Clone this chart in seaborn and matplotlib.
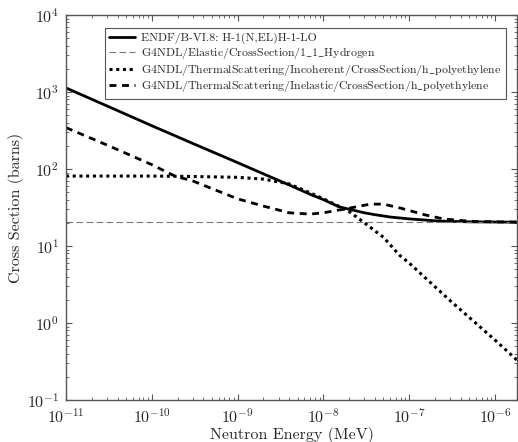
import matplotlib
matplotlib.use("Agg")
import matplotlib.pyplot as plt
import seaborn as sns
import pandas as pd

# Energie (MeV) e sezioni d'urto (barns)
energia_endf = [1e-11, 3e-11, 1e-10, 3e-10, 1e-9, 1.8e-9, 4e-9, 7e-9, 1e-8, 1.5e-8,
                2e-8, 3e-8, 4e-8, 6e-8, 1e-7, 2.2e-7, 5e-7, 1e-6, 1.8e-6]
sigma_endf = [1130, 660, 365, 215, 121, 91, 62, 47, 40, 32.5,
              30, 27, 25.5, 23.8, 22.5, 21.1, 20.6, 20.5, 20.4]

energia_elastic = [1e-11, 1e-9, 1e-7, 1.8e-6]
sigma_elastic = [20.4, 20.4, 20.4, 20.4]

energia_incoh = [1e-11, 1e-10, 3e-10, 1e-9, 2e-9, 4e-9, 7e-9, 1e-8, 1.5e-8, 2e-8,
                 3e-8, 5e-8, 7.7e-8, 1e-7, 3e-7, 1e-6, 1.8e-6]
sigma_incoh = [81, 81, 80, 78, 74, 64, 49, 41, 33, 28,
               20, 13, 7.6, 6.0, 1.95, 0.6, 0.33]

energia_inel = [1e-11, 3e-11, 1e-10, 1.85e-10, 3e-10, 1e-9, 2e-9, 4e-9, 7e-9, 1e-8,
                2e-8, 3.5e-8, 5e-8, 8e-8, 1.5e-7, 2.5e-7, 5e-7, 1e-6, 1.8e-6]
sigma_inel = [345, 205, 114, 81, 70, 41, 33, 27, 26, 27,
              31, 35, 35, 31, 25.5, 22.5, 21, 20.6, 20.5]

# tacche degli assi
xtacche = [1e-11, 1e-10, 1e-9, 1e-8, 1e-7, 1e-6]
xetichette = ["$10^{-11}$", "$10^{-10}$", "$10^{-9}$", "$10^{-8}$", "$10^{-7}$", "$10^{-6}$"]
ytacche = [1e-1, 1e0, 1e1, 1e2, 1e3, 1e4]
yetichette = ["$10^{-1}$", "$10^{0}$", "$10^{1}$", "$10^{2}$", "$10^{3}$", "$10^{4}$"]

# il carattere cmr10 non ha il trattino basso: lo si prende da mathtext
etichette = [
    "ENDF/B-VI.8: H-1(N,EL)H-1-LO",
    r"G4NDL/Elastic/CrossSection/1$\_$1$\_$Hydrogen",
    r"G4NDL/ThermalScattering/Incoherent/CrossSection/h$\_$polyethylene",
    r"G4NDL/ThermalScattering/Inelastic/CrossSection/h$\_$polyethylene",
]

sns.set_style("ticks")
plt.rcParams['font.family'] = ['cmr10', 'DejaVu Serif']
plt.rcParams['mathtext.fontset'] = 'cm'
plt.rcParams['axes.unicode_minus'] = True

fig = plt.figure(figsize=(5.18, 4.42), dpi=100)
ax = fig.add_axes([0.1274, 0.095, 0.8706, 0.871])

serie = [
    (energia_endf, sigma_endf, dict(color="black", lw=2.0, ls="-")),
    (energia_elastic, sigma_elastic, dict(color="#777777", lw=0.8, ls=(0, (6, 3)))),
    (energia_incoh, sigma_incoh, dict(color="black", lw=2.2, ls=(0, (1, 1.2)))),
    (energia_inel, sigma_inel, dict(color="black", lw=2.0, ls=(0, (2.5, 2)))),
]
for (x, y, stile), lab in zip(serie, etichette):
    df = pd.DataFrame({"E": x, "sigma": y})
    sns.lineplot(data=df, x="E", y="sigma", ax=ax, label=lab, **stile)

ax.set_xscale("log")
ax.set_yscale("log")
ax.set_xlim(1e-11, 1.8e-6)
ax.set_ylim(1e-1, 1e4)
ax.set_xticks(xtacche, xetichette)
ax.set_yticks(ytacche, yetichette)
ax.set_xlabel("Neutron Energy (MeV)", fontsize=11.5, labelpad=1)
ax.set_ylabel("Cross Section (barns)", fontsize=11.5, labelpad=2)
ax.tick_params(which="both", direction="in", top=True, right=True, labelsize=11.5,
               color="#555555")
ax.tick_params(which="major", length=4, pad=5)
ax.tick_params(which="minor", length=2)
for s in ax.spines.values():
    s.set_color("#555555")
    s.set_linewidth(1.0)

leg = ax.legend(loc="upper right", bbox_to_anchor=(0.989, 0.982), fontsize=8.5,
                frameon=True, fancybox=False, framealpha=1, edgecolor="#555555",
                handlelength=2.2, handletextpad=0.5, labelspacing=0.12, borderpad=0.4)
leg.get_frame().set_linewidth(0.8)

fig.savefig("out.png", dpi=100)
